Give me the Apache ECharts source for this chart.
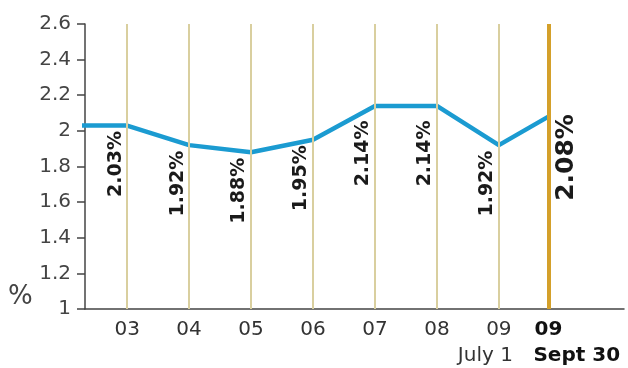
<!DOCTYPE html>
<html>
<head>
<meta charset="utf-8">
<script src="https://cdn.jsdelivr.net/npm/echarts@6/dist/echarts.min.js"></script>
<style>
  html, body { margin: 0; padding: 0; background: #fff; }
  #chart { width: 628px; height: 368px; }
</style>
</head>
<body>
<div id="chart"></div>
<script>
// Slot positions along the x axis (years 03–09, then the Sept 30 reading)
const slots = [3, 4, 5, 6, 7, 8, 9, 9.8];
const tickLabels = ['03', '04', '05', '06', '07', '08', '09', '09'];
const subLabels = ['', '', '', '', '', '', 'July 1', 'Sept 30'];
const rates = [2.03, 1.92, 1.88, 1.95, 2.14, 2.14, 1.92, 2.08];
// Reading before 03, running in from the left edge
const priorSlot = 2;
const priorRate = 2.03;

const FONT = 'DejaVu Sans';
const last = slots.length - 1;

function slotIndex(v) {
  for (let i = 0; i < slots.length; i++) {
    if (Math.abs(slots[i] - v) < 1e-6) return i;
  }
  return -1;
}

const lineData = [[priorSlot, priorRate]].concat(slots.map(function (s, i) {
  const item = { value: [s, rates[i]] };
  if (i === last) {
    item.label = {
      show: true, rotate: 90, position: [19, -2], align: 'right', verticalAlign: 'middle',
      fontFamily: FONT, fontWeight: 'bold', fontSize: 25, color: '#1a1a1a'
    };
  } else {
    // labels under the 07/08 plateau sit a little lower, clear of the rising line
    const dy = rates[i] > 2.1 ? 15 : 6;
    item.label = {
      show: true, rotate: 90, position: [-11, dy], align: 'right', verticalAlign: 'middle',
      fontFamily: FONT, fontWeight: 'bold', fontSize: 19, color: '#1a1a1a'
    };
  }
  return item;
}));

const guideLines = slots.map(function (s, i) {
  return {
    xAxis: s,
    lineStyle: i === last
      ? { color: '#d4a02a', width: 4, type: 'solid' }
      : { color: '#d9cf9f', width: 2, type: 'solid' }
  };
});

const chart = echarts.init(document.getElementById('chart'), null, { renderer: 'canvas' });

chart.setOption({
  animation: false,
  backgroundColor: '#ffffff',
  grid: { left: 85, right: 4, top: 24, bottom: 59, containLabel: false },
  xAxis: {
    type: 'value',
    min: 2.32,
    max: 11.02,
    axisLine: { show: true, onZero: false, lineStyle: { color: '#444', width: 1.5 } },
    axisTick: { show: false },
    splitLine: { show: false },
    axisLabel: {
      show: true,
      customValues: slots,
      showMinLabel: true,
      showMaxLabel: true,
      hideOverlap: false,
      margin: 11,
      formatter: function (v) {
        const i = slotIndex(v);
        if (i < 0) return '';
        return i === last ? '{bt|' + tickLabels[i] + '}' : '{t|' + tickLabels[i] + '}';
      },
      rich: {
        t: { fontFamily: FONT, fontSize: 20, color: '#333' },
        bt: { fontFamily: FONT, fontSize: 20, fontWeight: 'bold', color: '#111' }
      }
    }
  },
  yAxis: {
    type: 'value',
    min: 1,
    max: 2.6,
    interval: 0.2,
    axisLine: { show: true, lineStyle: { color: '#444', width: 1.5 } },
    axisTick: { show: true, inside: false, length: 8, lineStyle: { color: '#444', width: 1.5 } },
    splitLine: { show: false },
    axisLabel: {
      margin: 14,
      fontFamily: FONT, fontSize: 20, color: '#444',
      formatter: function (v) { return String(Math.round(v * 10) / 10); }
    }
  },
  series: [
    {
      // year guide lines behind the rate line
      type: 'line',
      z: 1,
      data: lineData.map(function (d) { return Array.isArray(d) ? d : d.value; }),
      symbol: 'none',
      lineStyle: { opacity: 0 },
      silent: true,
      markLine: {
        silent: true,
        symbol: ['none', 'none'],
        label: { show: false },
        data: guideLines
      }
    },
    {
      type: 'line',
      z: 3,
      clip: true,
      data: lineData,
      symbol: 'circle',
      symbolSize: 1,
      showSymbol: true,
      itemStyle: { color: 'rgba(0,0,0,0)' },
      lineStyle: { color: '#1b9bd1', width: 4.5 },
      label: {
        formatter: function (p) { return p.value[1].toFixed(2) + '%'; }
      }
    }
  ]
});

// Second-line date captions: "July 1" closes under its 09, "Sept 30" opens under the bold 09
const captions = [];
subLabels.forEach(function (txt, i) {
  if (!txt) return;
  const x = chart.convertToPixel({ xAxisIndex: 0 }, slots[i]);
  const bold = i === last;
  captions.push({
    type: 'text',
    x: bold ? x - 15 : x + 14,
    y: 356,
    style: {
      text: txt,
      align: bold ? 'left' : 'right',
      verticalAlign: 'middle',
      fontFamily: FONT,
      fontSize: 20,
      fontWeight: bold ? 'bold' : 'normal',
      fill: bold ? '#111' : '#333'
    }
  });
});
captions.push({
  type: 'text', left: 8, top: 284,
  style: { text: '%', fontFamily: FONT, fontSize: 26, fill: '#444' }
});
chart.setOption({ graphic: captions });
</script>
</body>
</html>
